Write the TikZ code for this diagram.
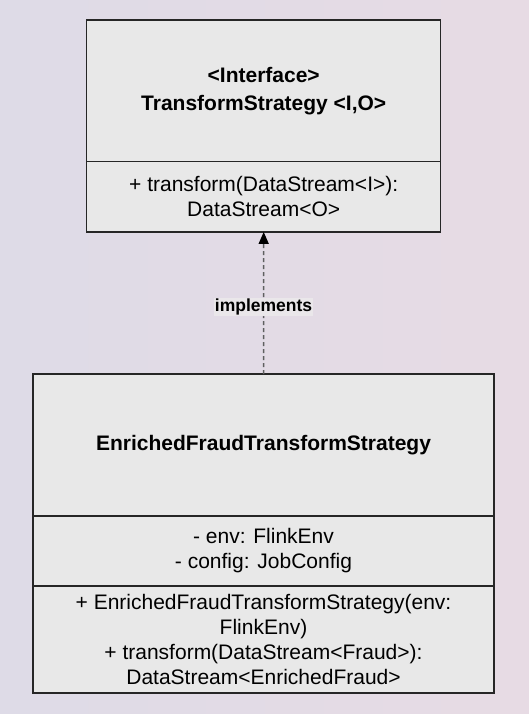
\documentclass[tikz,border=0pt]{standalone}
\usepackage{fontspec}
\setmainfont{Liberation Sans}
\usetikzlibrary{
	arrows.meta,
	positioning
}
\usepackage{xcolor}
\definecolor{bgleft}{RGB}{222,219,231}
\definecolor{bgright}{RGB}{231,219,228}
\definecolor{boxfill}{RGB}{232,232,232}
\definecolor{labelfill}{RGB}{234,231,234}
\definecolor{linkgray}{RGB}{95,95,95}

\tikzset{
	compart/.style={draw=black!85, fill=boxfill, line width=1.2pt, inner sep=0pt, outer sep=0pt,
		align=center, font=\fontsize{21}{25}\selectfont},
	titlepart/.style={compart, font=\bfseries\fontsize{21}{28}\selectfont},
	realize/.style={draw=linkgray, line width=1.5pt, dash pattern=on 4pt off 3pt,
		-{Triangle[width=10pt,length=12pt,color=black]}},
	linklabel/.style={fill=labelfill, inner sep=1pt, font=\bfseries\fontsize{17.5}{20}\selectfont}
}

\begin{document}
\begin{tikzpicture}[>=stealth, x=1pt, y=-1pt]
		
		\shade[left color=bgleft, right color=bgright] (0,0) rectangle (529,714);
		\useasboundingbox (0,0) rectangle (529,714);
		
		% Interface
		\node[titlepart, minimum width=354, minimum height=141.5] (ifaceTitle) at (263.7,90.7)
		{<Interface>\\TransformStrategy <I,O>};
		\node[compart, minimum width=354, minimum height=70.5, below=0pt of ifaceTitle] (ifaceMethods)
		{+ transform(DataStream<I>):\\DataStream<O>};
		
		% Implementation
		\node[titlepart, minimum width=461, minimum height=142] (implTitle) at (263.5,445)
		{EnrichedFraudTransformStrategy};
		\node[compart, minimum width=461, minimum height=70, below=0pt of implTitle] (implFields)
		{- env: FlinkEnv\\- config: JobConfig};
		\node[compart, minimum width=461, minimum height=107, below=0pt of implFields] (implMethods)
		{+ EnrichedFraudTransformStrategy(env:\\FlinkEnv)\\+ transform(DataStream<Fraud>):\\DataStream<EnrichedFraud>};
		
		\draw[realize] (implTitle.north) -- (ifaceMethods.south)
		node[linklabel, pos=0.47] (implLabel) {implements};
		
	\end{tikzpicture}
\end{document}
